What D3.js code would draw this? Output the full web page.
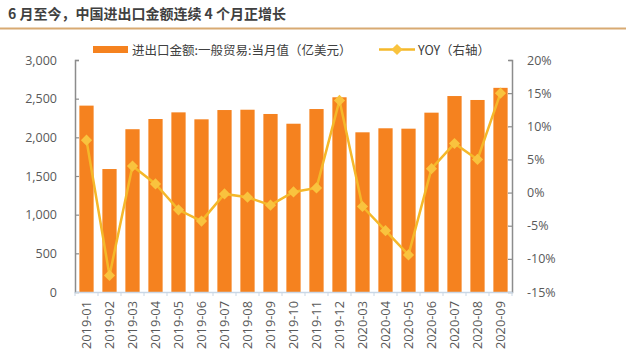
<!DOCTYPE html>
<html><head><meta charset="utf-8">
<script src="https://cdn.jsdelivr.net/npm/d3@7"></script>
<style>body{margin:0;background:#fff;}svg{display:block;font-family:"Microsoft YaHei","Noto Sans CJK SC",sans-serif;}</style>
</head><body><svg id="c" width="640" height="357"></svg>
<script>
const categories = ["2019-01","2019-02","2019-03","2019-04","2019-05","2019-06","2019-07","2019-08","2019-09","2019-10","2019-11","2019-12","2020-03","2020-04","2020-05","2020-06","2020-07","2020-08","2020-09"];
const tradeValues = [2410,1590,2105,2237,2323,2233,2353,2357,2302,2176,2366,2518,2065,2117,2112,2319,2534,2483,2640];
const yoyValues = [7.9,-12.5,4.0,1.3,-2.6,-4.3,-0.2,-0.7,-1.9,0.1,0.7,13.9,-2.1,-5.75,-9.4,3.6,7.4,5.0,15.0];
const leftTicks = [0,500,1000,1500,2000,2500,3000];
const rightTicks = [-15,-10,-5,0,5,10,15,20];
const titleText = "6 月至今，中国进出口金额连续 4 个月正增长";
const legendBar = "进出口金额:一般贸易:当月值（亿美元）";
const legendLine = "YOY（右轴）";

const svg = d3.select("#c");
const L = 75, R = 512, T = 60, B = 292;
const x = d3.scaleBand().domain(categories).range([L, R]).paddingInner(0.38).paddingOuter(0.19);
const yL = d3.scaleLinear().domain([0, 3000]).range([B, T]);
const yR = d3.scaleLinear().domain([-15, 20]).range([B, T]);

// title
svg.append("text").attr("x", 8).attr("y", 19).attr("font-size", 14).attr("font-weight", "bold")
  .attr("fill", "#404040").text(titleText);
svg.append("line").attr("x1", 0).attr("x2", 626).attr("y1", 28.5).attr("y2", 28.5)
  .attr("stroke", "#d8aa72").attr("stroke-width", 2);

// bars
svg.append("g").selectAll("rect").data(tradeValues).join("rect")
  .attr("x", (d, i) => x(categories[i])).attr("width", x.bandwidth())
  .attr("y", d => yL(d)).attr("height", d => B - yL(d)).attr("fill", "#F5821F");

// axes
const gl = svg.append("g").attr("transform", `translate(${L},0)`)
  .call(d3.axisLeft(yL).tickValues(leftTicks).tickSize(-4).tickPadding(18).tickFormat(d3.format(",")));
const gr = svg.append("g").attr("transform", `translate(${R},0)`)
  .call(d3.axisRight(yR).tickValues(rightTicks).tickSize(-4).tickPadding(15).tickFormat(d => d + "%"));
[gl, gr].forEach(g => {
  g.select(".domain").attr("stroke", "#8c8c8c").attr("stroke-width", 1.5);
  g.selectAll(".tick line").attr("stroke", "#8c8c8c").attr("stroke-width", 1.2);
  g.selectAll("text").attr("font-size", 12.5).attr("fill", "#595959").attr("font-family", "'Open Sans',sans-serif");
});
gl.select(".tick:first-of-type line").remove();
gr.select(".tick:first-of-type line").remove();

const gx = svg.append("g").attr("transform", `translate(0,${B})`)
  .call(d3.axisBottom(x).tickSize(0).tickPadding(0));
gx.select(".domain").attr("stroke", "#c9d7e6").attr("stroke-width", 1.5);
gx.selectAll(".tick text").attr("transform", "rotate(-90)").attr("text-anchor", "end")
  .attr("x", -9).attr("y", 0).attr("dy", "0.35em").attr("font-size", 12.8).attr("fill", "#595959")
  .attr("font-family", "'Open Sans',sans-serif");
const step = x.step();
gx.append("g").selectAll("line").data(d3.range(categories.length + 1)).join("line")
  .attr("x1", i => L + i * step).attr("x2", i => L + i * step).attr("y1", 0).attr("y2", 4)
  .attr("stroke", "#c9d7e6").attr("stroke-width", 1);

// line
const lineGen = d3.line().x((d, i) => x(categories[i]) + x.bandwidth() / 2).y(d => yR(d));
svg.append("path").datum(yoyValues).attr("d", lineGen).attr("fill", "none")
  .attr("stroke", "#F5B82A").attr("stroke-width", 2.5);
const diamond = d3.symbol().type(d3.symbolDiamond2).size(80);
svg.append("g").selectAll("path").data(yoyValues).join("path")
  .attr("d", diamond)
  .attr("transform", (d, i) => `translate(${x(categories[i]) + x.bandwidth() / 2},${yR(d)})`)
  .attr("fill", "#F9C33E");

// legend
svg.append("rect").attr("x", 93).attr("y", 46).attr("width", 35).attr("height", 7).attr("fill", "#F5821F");
svg.append("text").attr("x", 132).attr("y", 54.5).attr("font-size", 12.5).attr("fill", "#404040").text(legendBar);
svg.append("line").attr("x1", 379).attr("x2", 415).attr("y1", 49.5).attr("y2", 49.5)
  .attr("stroke", "#F5B82A").attr("stroke-width", 2.5);
svg.append("path").attr("d", diamond).attr("transform", "translate(397,49.5)").attr("fill", "#F9C33E");
svg.append("text").attr("x", 418).attr("y", 54.5).attr("font-size", 12.5).attr("fill", "#404040").text(legendLine);
</script></body></html>
